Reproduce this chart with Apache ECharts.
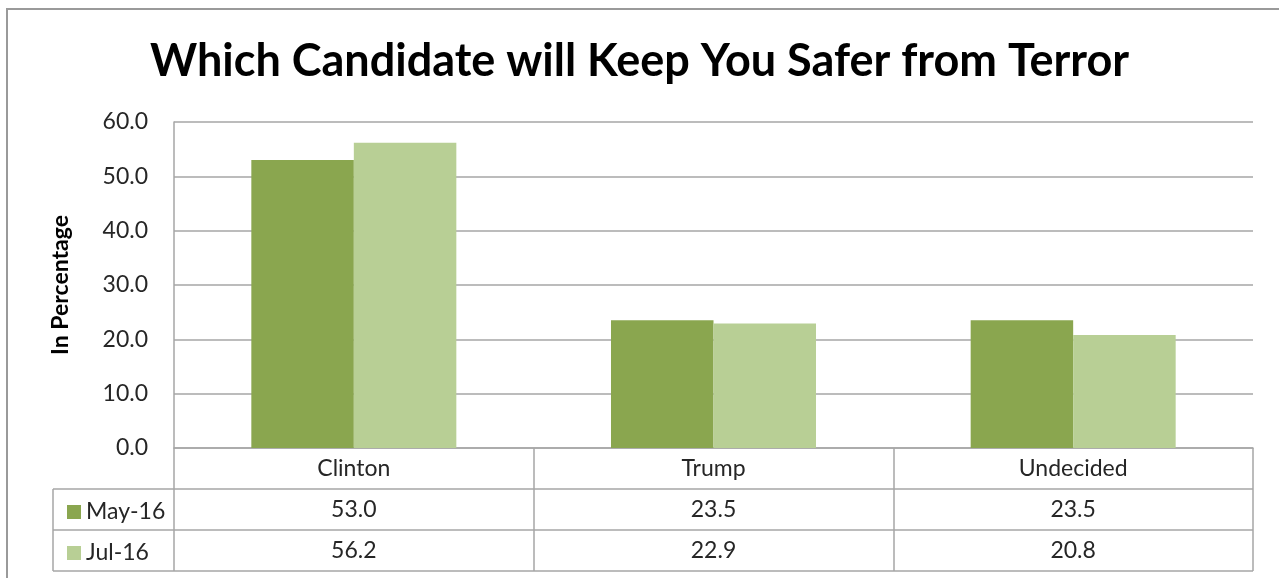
<!DOCTYPE html>
<html><head><meta charset="utf-8">
<script src="https://cdn.jsdelivr.net/npm/echarts@6/dist/echarts.min.js"></script>
<style>html,body{margin:0;padding:0;background:#fff}#c{width:1279px;height:578px}</style>
</head><body><div id="c"></div>
<script>
const title = 'Which Candidate will Keep You Safer from Terror';
const categories = ['Clinton', 'Trump', 'Undecided'];
const seriesNames = ['May-16', 'Jul-16'];
const may16 = [53.0, 23.5, 23.5];
const jul16 = [56.2, 22.9, 20.8];
const yTicks = [0, 10, 20, 30, 40, 50, 60];
const colors = ['#8AA64F', '#B8CF95'];
const FONT = 'Lato';
const FS = 23;

const GL = 174, GR = 1253, GT = 122, GB = 448, ROW = 41, TL = 53;
const W = 1279, H = 578;
const chart = echarts.init(document.getElementById('c'), null, {renderer: 'canvas'});
const tableRows = [may16, jul16];

const graphics = [
  {type: 'rect', shape: {x: 7, y: 9, width: 1300, height: 600}, style: {fill: 'none', stroke: '#9a9a9a', lineWidth: 2}, z: 1}
];
for (let r = 1; r <= 3; r++) {
  graphics.push({type: 'line', shape: {x1: TL, y1: GB + r * ROW, x2: GR, y2: GB + r * ROW}, style: {stroke: '#a6a6a6', lineWidth: 1.5}, z: 5});
}
graphics.push({type: 'line', shape: {x1: TL, y1: GB + ROW, x2: TL, y2: GB + 3 * ROW}, style: {stroke: '#a6a6a6', lineWidth: 1.5}, z: 5});
const cw = (GR - GL) / categories.length;
tableRows.forEach((row, r) => {
  row.forEach((v, i) => {
    graphics.push({type: 'text', x: GL + (i + 0.5) * cw, y: GB + (r + 1.5) * ROW,
      style: {text: v.toFixed(1), font: FS + 'px ' + FONT, fill: '#262626', align: 'center', verticalAlign: 'middle'}, z: 6});
  });
});

chart.setOption({
  animation: false,
  backgroundColor: '#fff',
  title: {text: title, left: 'center', top: 34, textStyle: {fontFamily: FONT, fontWeight: 'bold', fontSize: 45, color: '#000'}},
  legend: {
    data: seriesNames, orient: 'vertical', left: 62, top: GB + ROW + 6, itemWidth: 14, itemHeight: 14,
    itemGap: 17, icon: 'rect', textStyle: {fontFamily: FONT, fontSize: FS, color: '#262626', lineHeight: 24}
  },
  grid: {left: GL, right: W - GR, top: GT, bottom: H - GB, containLabel: false},
  xAxis: {
    type: 'category', data: categories,
    axisLine: {show: true, lineStyle: {color: '#a6a6a6', width: 1.5}},
    axisTick: {show: true, length: 3 * ROW, lineStyle: {color: '#a6a6a6', width: 1.5}},
    axisLabel: {fontFamily: FONT, fontSize: FS, color: '#262626', margin: 9}
  },
  yAxis: {
    type: 'value', min: yTicks[0], max: yTicks[yTicks.length - 1], interval: 10,
    name: 'In Percentage', nameLocation: 'middle', nameGap: 102, nameRotate: 90,
    nameTextStyle: {fontFamily: FONT, fontWeight: 'bold', fontSize: FS, color: '#000'},
    axisLine: {show: true, lineStyle: {color: '#a6a6a6', width: 1.5}},
    axisTick: {show: false},
    axisLabel: {fontFamily: FONT, fontSize: FS, color: '#262626', margin: 26, formatter: v => v.toFixed(1)},
    splitLine: {lineStyle: {color: '#a6a6a6', width: 1.5}}
  },
  series: [
    {name: seriesNames[0], type: 'bar', data: may16, barGap: '0%', barCategoryGap: '43%', itemStyle: {color: colors[0]}},
    {name: seriesNames[1], type: 'bar', data: jul16, itemStyle: {color: colors[1]}}
  ],
  graphic: graphics
});
</script></body></html>
